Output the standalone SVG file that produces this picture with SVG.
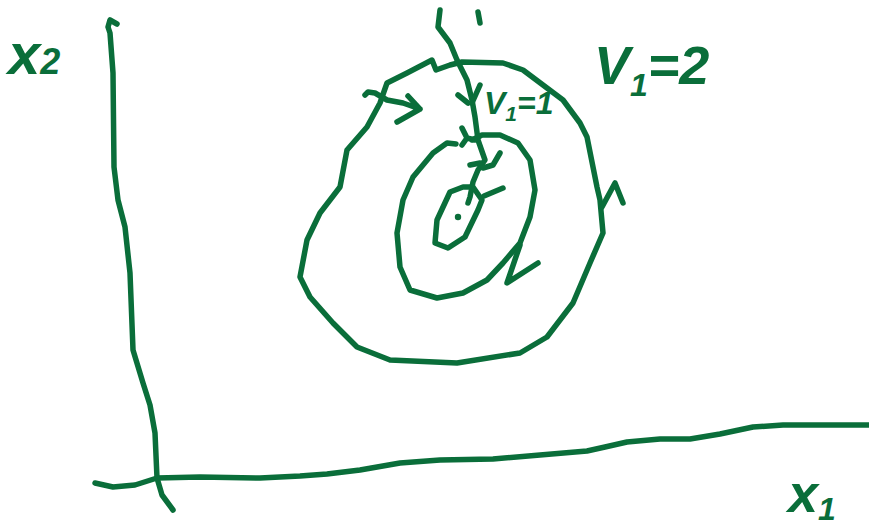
<svg xmlns="http://www.w3.org/2000/svg" width="869" height="528" viewBox="0 0 869 528">
<style>
.s{fill:none;stroke:#0a6e3a;stroke-width:5.5;stroke-linecap:round;stroke-linejoin:round}
.t{font-family:"Liberation Sans",Arial,sans-serif;font-style:italic;font-weight:bold;fill:#0a6e3a}
</style>
<rect width="869" height="528" fill="#fff"/>
<g id="axes">
<path class="s" d="M117,24 L110,20 L108,27 L110,33 L113,73 L114,167 L118,200 L125,227 L130,273 L133,350 L143,383 L150,405 L155,433 L157,478 L162,495 L173,510"/>
<path class="s" d="M95,483 L113,487 L135,485 L157,478 L200,477 L260,478 L300,476 L327,474 L360,470 L400,463 L440,460 L493,459 L540,455 L587,451 L605,447 L627,442 L660,439 L690,439 L720,434 L753,427 L783,425 L869,425"/>
</g>
<g id="labels">
<text class="t" x="8" y="74" font-size="58">x<tspan font-size="36" dy="0">2</tspan></text>
<text class="t" x="594" y="84" font-size="54">V<tspan font-size="32" dy="12">1</tspan><tspan dy="-12">=2</tspan></text>
<text class="t" x="484" y="114" font-size="32">V<tspan font-size="21" dy="7">1</tspan><tspan dy="-7">=1</tspan></text>
<text class="t" x="788" y="512" font-size="54">x<tspan font-size="32" dy="8">1</tspan></text>
</g>
<g id="level-sets">
<path id="outer" class="s" d="M432,60 L436,70 L450,65 L462,62 L503,63 L523,70 L547,88 L563,100 L580,123 L587,137 L593,167 L597,187 L600,200 L603,233 L590,263 L573,303 L547,337 L520,353 L457,363 L390,360 L357,347 L333,323 L310,297 L300,277 L307,240 L320,213 L340,187 L347,150 L367,127 L380,103 L387,83 L407,73 Z"/>
<path id="inner" class="s" d="M456,144 L447,143 L433,153 L413,177 L403,200 L397,233 L400,267 L410,290 L437,298 L463,293 L487,280 L503,263 L520,243 L530,217 L535,190 L530,160 L518,143 L500,135 L482,135 L472,140"/>
<path id="innermost" class="s" d="M450,192 L437,220 L435,243 L448,248 L465,237 L478,210 L482,200 L473,187 L463,187 Z"/>
<circle cx="458" cy="217" r="3.2" fill="#0a6e3a"/>
</g>
<g id="connectors">
<path class="s" d="M440,10 L438,27 L450,43 L457,60 L467,80 L472,100 L475,117 L478,140 L485,160 L478,170 L473,182 L470,197 L468,203"/>
<path class="s" d="M478,12 L480,23"/>
<path class="s" d="M458,95 L468,103 M480,85 L472,103"/>
<path class="s" d="M462,128 L467,138 L462,145 M467,138 L475,140"/>
<path class="s" d="M500,153 L493,165 L483,168 M470,165 L480,163"/>
<path class="s" d="M484,196 L503,188"/>
<path class="s" d="M365,95 L368,92 L375,93 L387,100 L403,103 L420,109 M408,96 L420,109 L397,122"/>
<path class="s" d="M602,207 L615,183 L623,203"/>
<path class="s" d="M520,245 L507,283 L538,263"/>
</g>
</svg>
